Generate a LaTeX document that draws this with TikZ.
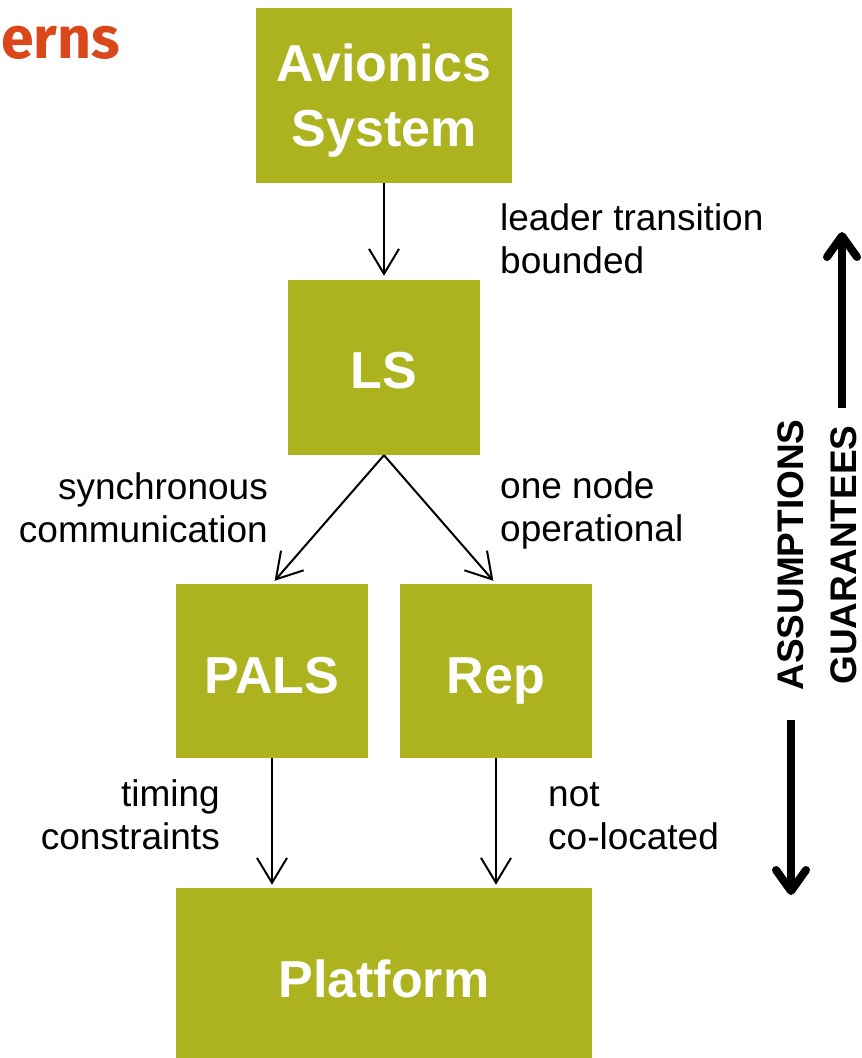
\documentclass[tikz,border=0pt]{standalone}
\usepackage{fontspec}
\setmainfont{Liberation Sans}
\newfontfamily\titlefont{Fira Sans}
\usetikzlibrary{arrows.meta}
\definecolor{boxgreen}{HTML}{ACB31E}
\definecolor{titlecol}{HTML}{D9471B}
\newcommand\ctwo[2]{\vtop{\halign{\hfil##\hfil\cr#1\cr#2\cr}}}
\newcommand\ltwo[2]{\vtop{\halign{##\hfil\cr#1\cr#2\cr}}}
\newcommand\rtwo[2]{\vtop{\halign{\hfil##\cr#1\cr#2\cr}}}
\begin{document}
\begin{tikzpicture}[x=1pt,y=-1pt,
  box/.style={fill=boxgreen, draw=none, text=white, font=\fontsize{52}{65}\selectfont\bfseries, inner sep=0pt, text height=37pt, text depth=0pt},
  lbl/.style={font=\fontsize{37}{43.5}\selectfont, inner sep=0pt},
  conn/.style={draw=black, line width=2pt, -{Straight Barb[length=25pt,width=30pt]}},
  bigarrow/.style={draw=black, line width=8pt, -{Straight Barb[round,length=21pt,width=30pt]}},
  side/.style={font=\fontsize{37}{44}\selectfont\bfseries, rotate=90, inner sep=0pt, text height=26.5pt, text depth=0pt}]
\useasboundingbox (0,0) rectangle (862,1058);

\node[anchor=base west, font=\titlefont\fontsize{59}{62}\selectfont\bfseries, text=titlecol, inner sep=0pt] (title) at (1,58) {erns};

\node[box, minimum width=256pt, minimum height=175pt, text depth=65pt] (av) at (384,95.5) {\ctwo{Avionics}{System}};
\node[box, minimum width=192pt, minimum height=175pt, text height=41pt] (ls) at (384,367.5) {LS};
\node[box, minimum width=192pt, minimum height=174pt, text height=44pt] (pals) at (272,671) {PALS};
\node[box, minimum width=192pt, minimum height=174pt, text height=44pt] (rep) at (496,671) {Rep};
\node[box, minimum width=416pt, minimum height=170pt, text height=48pt] (plat) at (384,973) {Platform};

\draw[conn, shorten >=4pt] (av.south) -- (ls.north);
\draw[conn, shorten >=4pt] (ls.south) -- (pals.north);
\draw[conn, shorten >=4pt] (ls.south) -- (rep.north);
\draw[conn, shorten >=3pt] (pals.south) -- (pals.south |- plat.north);
\draw[conn, shorten >=3pt] (rep.south) -- (rep.south |- plat.north);

\node[lbl, anchor=base west] (l1) at (500,230) {\ltwo{leader transition}{bounded}};
\node[lbl, anchor=base east] (l2) at (268,499) {\rtwo{synchronous}{communication}};
\node[lbl, anchor=base west] (l3) at (500,498) {\ltwo{one node}{operational}};
\node[lbl, anchor=base east] (l4) at (220,806) {\rtwo{timing}{constraints}};
\node[lbl, anchor=base west] (l5) at (548,806) {\ltwo{not}{co-located}};

\node[side] (asm) at (790,555) {ASSUMPTIONS};
\node[side] (gua) at (843,555) {GUARANTEES};

\coordinate (gbot) at (842,408);
\coordinate (gtop) at (842,232);
\coordinate (atop) at (791,720);
\coordinate (abot) at (791,895);
\draw[bigarrow] (gbot) -- (gtop);
\draw[bigarrow] (atop) -- (abot);
\end{tikzpicture}
\end{document}
